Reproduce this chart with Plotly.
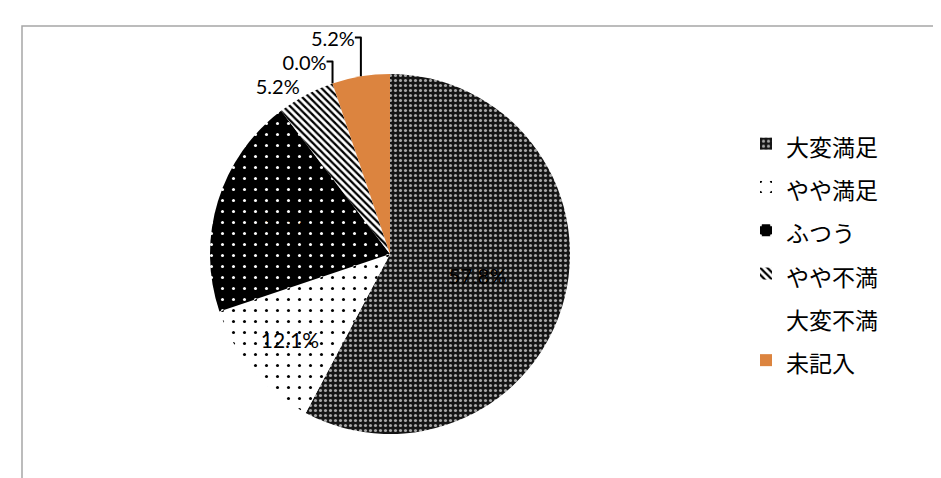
import plotly.graph_objects as go

# 満足度 (n=116)
labels = ["大変満足", "やや満足", "ふつう", "やや不満", "大変不満", "未記入"]
counts = [67, 14, 23, 6, 0, 6]
text_pos = ["inside", "inside", "inside", "outside", "outside", "outside"]

# Excel-like pattern fills
patterns = dict(
    shape=[".", ".", ".", "\\", "", ""],
    bgcolor=["#151515", "#ffffff", "#000000", "#ffffff", "#ffffff", "#dc843f"],
    fgcolor=["#a8a8a8", "#000000", "#ffffff", "#000000", "#000000", "#dc843f"],
    size=[5, 11, 11, 5, 6, 6],
    solidity=[0.3, 0.06, 0.06, 0.45, 0.2, 0.2],
    fillmode="replace",
)

W, H = 941, 478

fig = go.Figure(go.Pie(
    labels=[f'<span style="font-size:23px">{l}</span>' for l in labels],
    values=counts,
    sort=False,
    direction="clockwise",
    rotation=0,
    marker=dict(colors=patterns["bgcolor"], pattern=patterns, line=dict(width=0)),
    texttemplate="%{percent:.1%}",
    textposition=text_pos,
    insidetextorientation="horizontal",
    textfont=dict(family="Lato, Open Sans, sans-serif", size=21, color="black"),
    outsidetextfont=dict(family="Lato, Open Sans, sans-serif", size=20, color="black"),
    domain=dict(x=[202 / W, 562 / W], y=[52 / H, 412 / H]),
    hoverinfo="label+percent",
))

fig.update_layout(
    width=W,
    height=H,
    margin=dict(l=0, r=0, t=0, b=0),
    paper_bgcolor="white",
    showlegend=True,
    legend=dict(
        x=738 / W, xanchor="left",
        y=1 - 244 / H, yanchor="middle",
        font=dict(family="Noto Sans CJK JP", size=31, color="black"),
        bgcolor="rgba(0,0,0,0)",
    ),
    shapes=[dict(type="rect", xref="paper", yref="paper",
                 x0=14 / W, x1=932 / W, y0=-0.02, y1=1 - 18 / H,
                 line=dict(color="#a6a6a6", width=1.5))],
)

fig.write_html("out.html")
